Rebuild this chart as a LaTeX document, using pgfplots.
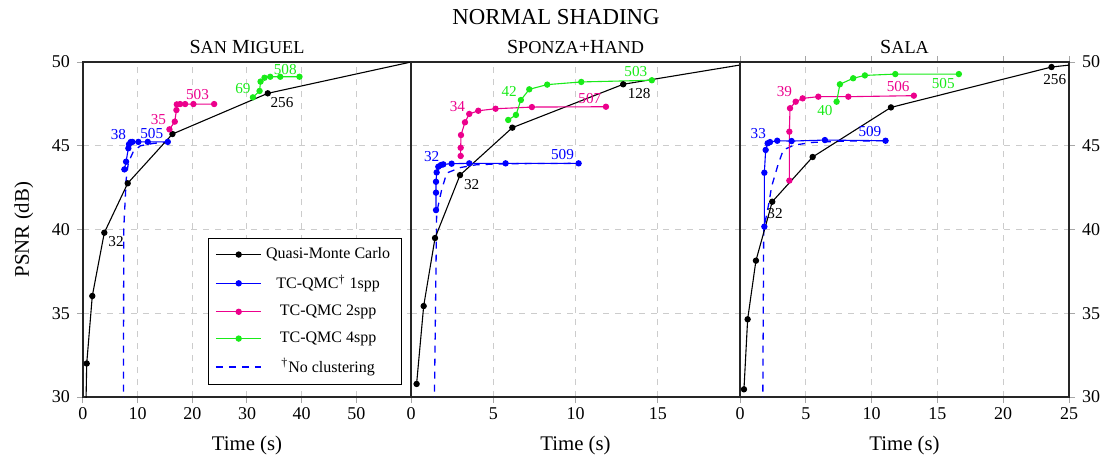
\documentclass[border=0pt]{standalone}
\usepackage{pgfplots}
\pgfplotsset{compat=1.18}
\usepackage{fontspec}
\setmainfont{Liberation Serif}
\definecolor{qpink}{RGB}{236,0,140}
\definecolor{qgreen}{RGB}{25,235,25}
\definecolor{qblue}{RGB}{0,0,255}
\newcommand{\sca}[1]{{\fontsize{9.1}{10}\selectfont #1}}
\newcommand{\lab}{\fontsize{7.6}{9}\selectfont}

\pgfplotsset{
 myax/.style={
  scale only axis, height=167.5pt,
  ymin=30, ymax=50, ytick={30,35,40,45,50},
  grid=major, grid style={dashed, gray!40, line width=0.5pt},
  axis line style={black!85, line width=0.6pt},
  tick align=outside, tick style={gray!70, line width=0.5pt}, major tick length=3pt,
  /pgf/number format/assume math mode=true,
  tick label style={font=\fontsize{9}{10}\selectfont},
  label style={font=\fontsize{10.4}{12}\selectfont},
  title style={font=\fontsize{11.4}{13}\selectfont, yshift=0pt},
  every axis title/.style={at={(0.5,1)}, above, yshift=0.5pt},
  xticklabel shift=-1.2pt, xlabel shift=1.5pt,
  xlabel={Time (s)},
  legend image code/.code={\draw[mark repeat=2,mark phase=2] plot coordinates {(0cm,0cm) (0.4cm,0cm) (0.8cm,0cm)};},
 },
 ln/.style={line width=0.55pt, mark=*, mark size=1.3pt},
 nc/.style={qblue, line width=0.65pt, dash pattern=on 3.5pt off 3pt, no marks},
}

\begin{document}
\begin{tikzpicture}
\useasboundingbox (-41.5pt,-33pt) rectangle (514.5pt,198.5pt);
\node[font=\fontsize{11.4}{13}\selectfont] at (236.5pt,190pt) {NORMAL SHADING};

% ---------------- San Miguel
\begin{axis}[myax, at={(0pt,0pt)}, anchor=south west, width=164pt,
  xmin=0, xmax=60, xtick={0,10,20,30,40,50}, xtick pos=left, ytick pos=left,
  ylabel={PSNR (dB)}, ylabel shift=2.5pt,
  title={S\sca{AN} M\sca{IGUEL}},
  legend cell align=center,
  legend style={at={(rel axis cs:0.971,0.036)}, anchor=south east,
     font=\fontsize{8}{9.6}\selectfont, row sep=2.6pt, inner xsep=3.5pt, inner ysep=2.5pt},
]
\addplot[nc, forget plot] coordinates {(7.4,28) (7.45,40) (7.9,43.0) (8.3,44.0) (9.2,44.65) (10.5,45.0) (13,45.15) (15.5,45.2)};
\addplot[ln, color=black] coordinates {(0.4,27) (0.68,32.0) (1.70,36.03) (3.90,39.81) (8.18,42.76) (16.36,45.70) (33.8,48.13) (68,50.57)};
\addplot[ln, color=qblue] coordinates {(7.57,43.59) (7.88,44.05) (8.30,44.85) (8.42,45.09) (8.73,45.22) (9.03,45.23) (10.13,45.23) (11.85,45.23) (15.51,45.23)};
\addplot[ln, color=qpink] coordinates {(15.81,45.98) (16.79,46.44) (17.09,47.13) (17.16,47.47) (17.77,47.49) (18.68,47.49) (20.2,47.49) (23.99,47.49)};
\addplot[ln, color=qgreen] coordinates {(31.08,47.89) (32.3,48.27) (32.48,48.83) (33.2,49.06) (34.25,49.12) (36.08,49.12) (39.6,49.12)};
\addlegendimage{color=qblue, line width=0.65pt, dash pattern=on 3.5pt off 3pt, no marks}
\legend{Quasi-Monte Carlo, TC-QMC\textsuperscript{†} 1spp, TC-QMC 2spp, TC-QMC 4spp, \textsuperscript{†}No clustering}
\node[font=\lab, black] at (axis cs:6.04,39.27) {32};
\node[font=\lab, black] at (axis cs:36.4,47.57) {256};
\node[font=\lab, qblue] at (axis cs:6.47,45.7) {38};
\node[font=\lab, qblue] at (axis cs:12.58,45.74) {505};
\node[font=\lab, qpink] at (axis cs:13.8,46.54) {35};
\node[font=\lab, qpink] at (axis cs:20.94,48.03) {503};
\node[font=\lab, qgreen] at (axis cs:29.25,48.43) {69};
\node[font=\lab, qgreen] at (axis cs:37.0,49.58) {508};
\end{axis}

% ---------------- Sponza+Hand
\begin{axis}[myax, at={(164pt,0pt)}, anchor=south west, width=164.5pt,
  xmin=0, xmax=20, xtick={0,5,10,15}, xtick pos=left,
  yticklabels={}, ytick style={draw=none},
  title={S\sca{PONZA}+H\sca{AND}},
]
\addplot[nc] coordinates {(1.40,28) (1.56,41.0) (1.86,42.36) (2.17,43.37) (3.0,43.7) (4.0,43.87) (6,43.93) (10.2,43.95)};
\addplot[ln, color=black] coordinates {(0.34,30.78) (0.77,35.43) (1.46,39.49) (2.98,43.25) (6.16,46.08) (12.9,48.67) (25.8,50.76)};
\addplot[ln, color=qblue] coordinates {(1.52,41.16) (1.52,42.2) (1.52,42.85) (1.56,43.41) (1.66,43.75) (1.82,43.85) (1.96,43.89) (2.47,43.93) (3.54,43.95) (5.75,43.95) (10.19,43.95)};
\addplot[ln, color=qpink] coordinates {(3.02,44.39) (3.02,44.88) (3.04,45.64) (3.28,46.4) (3.54,46.9) (4.09,47.09) (5.14,47.21) (7.35,47.31) (11.85,47.33)};
\addplot[ln, color=qgreen] coordinates {(5.91,46.54) (6.38,46.84) (6.68,47.73) (7.19,48.37) (8.28,48.65) (10.35,48.81) (14.64,48.91)};
\node[font=\lab, black] at (axis cs:3.69,42.7) {32};
\node[font=\lab, black] at (axis cs:13.87,48.13) {128};
\node[font=\lab, qblue] at (axis cs:1.26,44.35) {32};
\node[font=\lab, qblue] at (axis cs:9.21,44.45) {509};
\node[font=\lab, qpink] at (axis cs:2.82,47.37) {34};
\node[font=\lab, qpink] at (axis cs:10.87,47.83) {507};
\node[font=\lab, qgreen] at (axis cs:5.97,48.23) {42};
\node[font=\lab, qgreen] at (axis cs:13.67,49.42) {503};
\end{axis}

% ---------------- Sala
\begin{axis}[myax, at={(328.5pt,0pt)}, anchor=south west, width=164.5pt,
  xmin=0, xmax=25, xtick={0,5,10,15,20,25}, xtick pos=both,
  ytick pos=right, yticklabel pos=right,
  title={S\sca{ALA}},
]
\addplot[nc] coordinates {(1.72,28) (1.80,40.0) (2.2,41.6) (2.4,42.56) (2.9,43.9) (3.29,44.75) (4.12,45.04) (5.5,45.2) (8,45.28) (11,45.3)};
\addplot[ln, color=black] coordinates {(0.30,30.46) (0.58,34.64) (1.21,38.14) (2.45,41.66) (5.52,44.33) (11.47,47.29) (23.67,49.70) (47.3,51.73)};
\addplot[ln, color=qblue] coordinates {(1.85,40.17) (1.85,43.39) (1.95,44.75) (2.10,45.15) (2.28,45.22) (2.83,45.30) (3.92,45.28) (6.45,45.34) (11.06,45.30)};
\addplot[ln, color=qpink] coordinates {(3.75,42.92) (3.75,45.84) (3.80,47.24) (4.23,47.63) (4.76,47.83) (5.95,47.93) (8.23,47.93) (13.21,47.99)};
\addplot[ln, color=qgreen] coordinates {(7.34,47.63) (7.59,48.67) (8.6,49.03) (9.49,49.2) (11.8,49.28) (16.63,49.28)};
\node[font=\lab, black] at (axis cs:2.66,40.97) {32};
\node[font=\lab, black] at (axis cs:23.92,48.97) {256};
\node[font=\lab, qblue] at (axis cs:1.39,45.74) {33};
\node[font=\lab, qblue] at (axis cs:9.87,45.84) {509};
\node[font=\lab, qpink] at (axis cs:3.37,48.23) {39};
\node[font=\lab, qpink] at (axis cs:12.02,48.53) {506};
\node[font=\lab, qgreen] at (axis cs:6.45,47.13) {40};
\node[font=\lab, qgreen] at (axis cs:15.44,48.73) {505};
\end{axis}
\end{tikzpicture}
\end{document}
